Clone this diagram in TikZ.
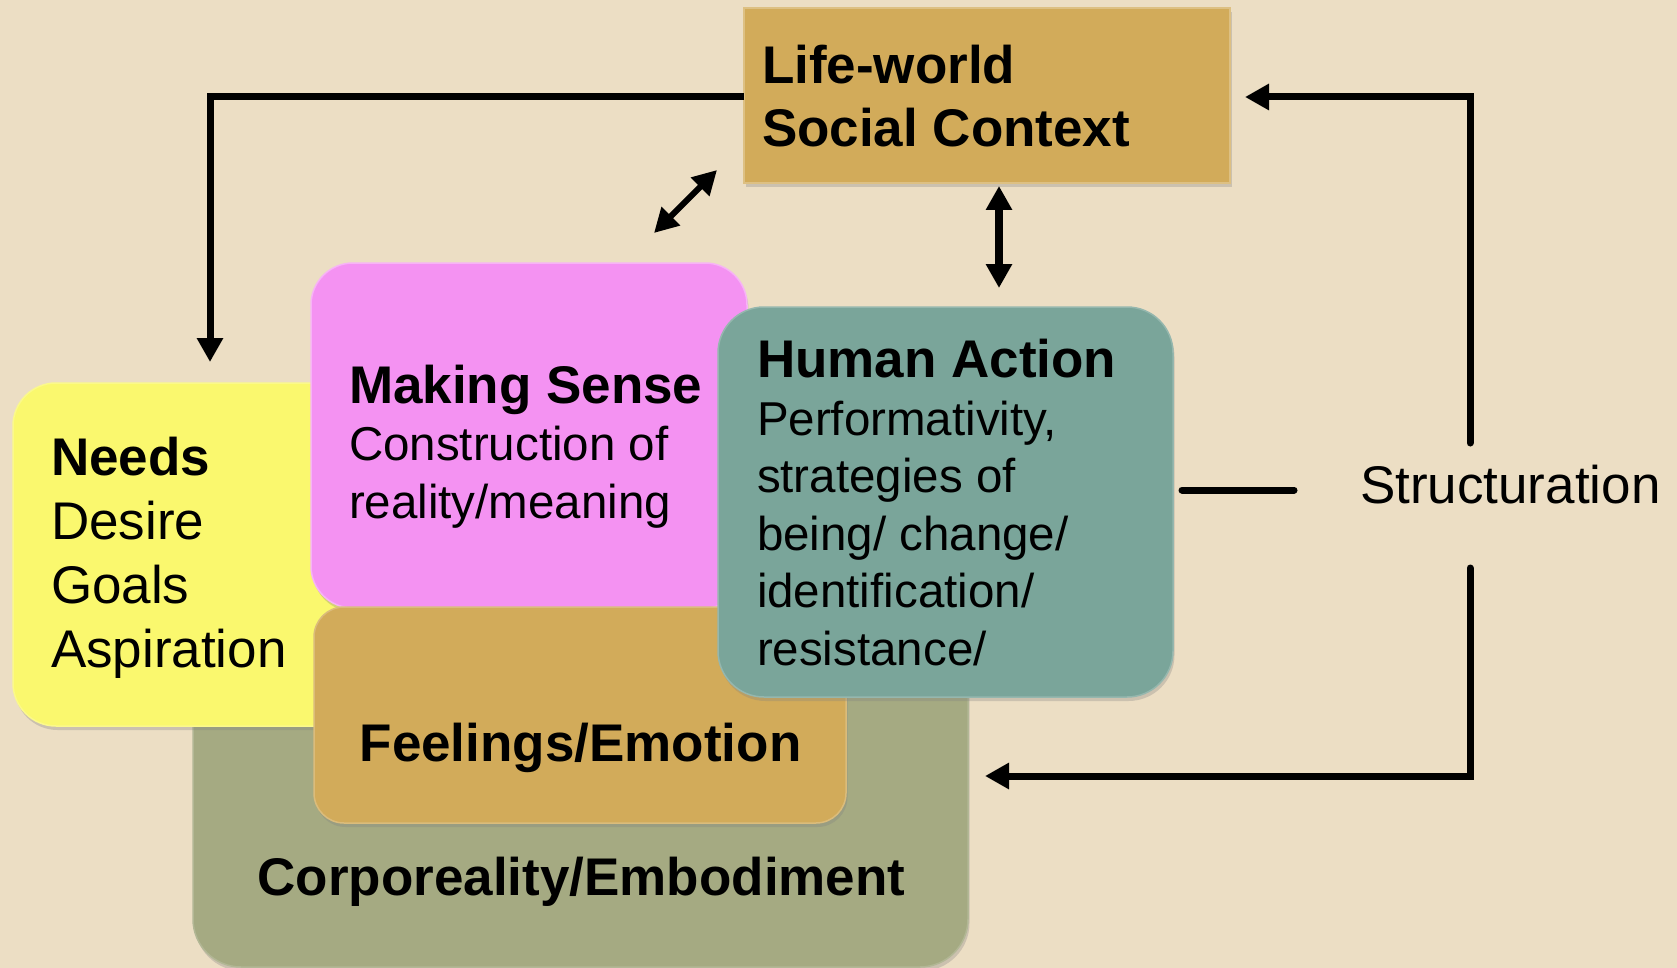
\documentclass[tikz,border=0pt]{standalone}
\usepackage{fontspec}
\setmainfont{Liberation Sans}
\usetikzlibrary{arrows.meta,shadows}
\definecolor{bgcol}{RGB}{236,222,196}
\definecolor{goldbox}{RGB}{210,171,90}
\definecolor{yelbox}{RGB}{250,248,110}
\definecolor{pinkbox}{RGB}{244,146,242}
\definecolor{tealbox}{RGB}{122,165,154}
\definecolor{olivebox}{RGB}{165,170,130}
\begin{document}
\begin{tikzpicture}[x=1pt,y=-1pt,
  box/.style={inner sep=0pt,outer sep=0pt,
    drop shadow={shadow xshift=1.5pt,shadow yshift=-4pt,opacity=0.3}},
  bigtxt/.style={inner sep=0pt,outer sep=0pt,align=left,
    font=\fontsize{53}{64}\selectfont},
  smalltxt/.style={inner sep=0pt,outer sep=0pt,align=left,
    font=\fontsize{47.5}{57.5}\selectfont},
  arrowline/.style={line width=7pt,-{Triangle[width=25pt,length=24pt]}},
  dblarrow/.style={{Triangle[width=25pt,length=24pt]}-{Triangle[width=25pt,length=24pt]}},
  plainline/.style={line width=7pt,line cap=round}]
\fill[bgcol] (0,0) rectangle (1677,968);
\useasboundingbox (0,0) rectangle (1677,968);

% boxes (back to front)
\node[box,fill=olivebox,draw=olivebox!85!white,line width=1.5pt,
  minimum width=775pt,minimum height=327pt,rounded corners=48pt]
  (olive) at (580.5,803.5) {};
\node[box,fill=yelbox,draw=yelbox!80!white,line width=1.5pt,
  minimum width=367pt,minimum height=343pt,rounded corners=43pt]
  (needs) at (196.5,554.5) {};
\node[box,fill=pinkbox,draw=pinkbox!70!white,line width=1.5pt,
  minimum width=436pt,minimum height=345pt,rounded corners=42pt]
  (sense) at (529,435.5) {};
\node[box,fill=goldbox,draw=goldbox!80!white,line width=1.5pt,
  minimum width=532pt,minimum height=216pt,rounded corners=30pt]
  (feel) at (580,715) {};
\node[box,fill=tealbox,draw=tealbox!80!white,line width=1.5pt,
  minimum width=455pt,minimum height=390pt,rounded corners=46pt]
  (action) at (945.5,502) {};
\node[box,fill=goldbox,draw=goldbox!75!white,line width=1.5pt,
  minimum width=486pt,minimum height=175pt]
  (lw) at (987,95.5) {};

% texts (multi-line nodes: base anchor is the last line's baseline)
\node[bigtxt,anchor=base west,font=\fontsize{53}{63}\selectfont\bfseries]
  (lwtext) at (762,147) {Life-world\\Social Context};
\node[bigtxt,anchor=base west] (needstext) at (51,667)
  {{\bfseries Needs}\\Desire\\Goals\\Aspiration};
\node[smalltxt,anchor=base west] (sensetext) at (349,518)
  {{\fontsize{53}{57.5}\selectfont\bfseries Making Sense}\\Construction of\\reality/meaning};
\node[smalltxt,anchor=base west] (actiontext) at (757,665)
  {{\fontsize{53}{57.5}\selectfont\bfseries Human Action}\\Performativity,\\strategies of\\being/ change/\\identification/\\resistance/};
\node[bigtxt,anchor=base,font=\fontsize{53}{64}\selectfont\bfseries]
  (feeltext) at (580.5,761) {Feelings/Emotion};
\node[bigtxt,anchor=base,font=\fontsize{53}{64}\selectfont\bfseries]
  (corptext) at (581.5,895) {Corporeality/Embodiment};
\node[bigtxt,anchor=base west] (struct) at (1360,503) {Structuration};

% connectors
\coordinate (needsin) at (210,362);
\draw[arrowline] (lw.west |- 0,97) -| (needsin);

\coordinate (diagA) at (654,233);
\coordinate (diagB) at (717,170);
\draw[dblarrow,line width=6pt] (diagA) -- (diagB);

\coordinate (vertA) at (999,186);
\coordinate (vertB) at (999,288);
\draw[dblarrow,line width=8pt] (vertA) -- (vertB);

\coordinate (structtop) at (1470,443);
\coordinate (lwin) at (1245,97);
\draw[arrowline,line cap=round] (structtop) |- (lwin);

\coordinate (structbot) at (1470,568);
\coordinate (olivein) at (985,776);
\draw[arrowline,line cap=round] (structbot) |- (olivein);

\coordinate (tickA) at (1182,490);
\coordinate (tickB) at (1294,490);
\draw[plainline] (tickA) -- (tickB);
\end{tikzpicture}
\end{document}
